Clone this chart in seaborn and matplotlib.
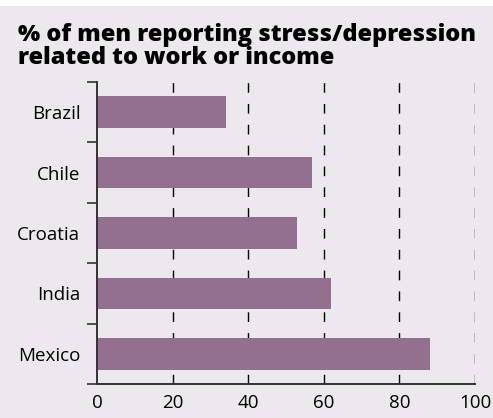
import matplotlib
matplotlib.use("Agg")
import matplotlib.pyplot as plt
import seaborn as sns
import pandas as pd
from matplotlib.patches import Rectangle

countries = ["Brazil", "Chile", "Croatia", "India", "Mexico"]
values = [34, 57, 53, 62, 88]
xticks = [0, 20, 40, 60, 80, 100]
title_lines = ["% of men reporting stress/depression", "related to work or income"]

bg = "#EDE8EE"
bar_color = "#93708F"

sns.set_theme(style="white")
plt.rcParams["font.family"] = ["Open Sans", "DejaVu Sans"]

df = pd.DataFrame({"country": countries, "value": values})

W, H = 493, 418
fig = plt.figure(figsize=(W / 100, H / 100), dpi=100)
fig.patch.set_facecolor(bg)
fig.patches.append(Rectangle((0, 1 - 6 / H), 1, 6 / H, transform=fig.transFigure,
                             facecolor="white", edgecolor="none", zorder=0))
ax = fig.add_axes([97 / W, 1 - 384 / H, (475 - 97) / W, (384 - 82) / H])
ax.set_facecolor(bg)

for xv in xticks[1:]:
    ax.axvline(xv, color="black", lw=1.0, linestyle=(0, (7, 8)), zorder=0)

sns.barplot(data=df, y="country", x="value", orient="h", color=bar_color,
            saturation=1, width=0.52, ax=ax, zorder=2, linewidth=0, edgecolor="none")

ax.set_xlim(0, 100)
ax.set_ylim(4.5, -0.5)
ax.set_xticks(xticks)
ax.set_xticklabels([str(v) for v in xticks], fontsize=13.5, color="black")
ax.set_yticks(range(len(countries)))
ax.set_yticklabels(countries, fontsize=13.5, color="black")
ax.set_xlabel("")
ax.set_ylabel("")
ax.set_yticks([i - 0.5 for i in range(len(countries) + 1)], minor=True)
ax.tick_params(axis="y", which="major", length=0, pad=12)
ax.tick_params(axis="y", which="minor", length=7, width=1.2, color="#333333", direction="out", left=True)
ax.tick_params(axis="x", which="major", length=0, pad=7.5)

for s in ["top", "right"]:
    ax.spines[s].set_visible(False)
for s in ["left", "bottom"]:
    ax.spines[s].set_visible(True)
    ax.spines[s].set_color("#333333")
    ax.spines[s].set_linewidth(1.4)

fig.text(18 / W, 1 - 40.7 / H, title_lines[0], fontsize=16.9, fontweight=800,
         ha="left", va="baseline", color="black")
fig.text(18 / W, 1 - 63.5 / H, title_lines[1], fontsize=16.9, fontweight=800,
         ha="left", va="baseline", color="black")

fig.savefig("out.png", dpi=100, facecolor=bg)
